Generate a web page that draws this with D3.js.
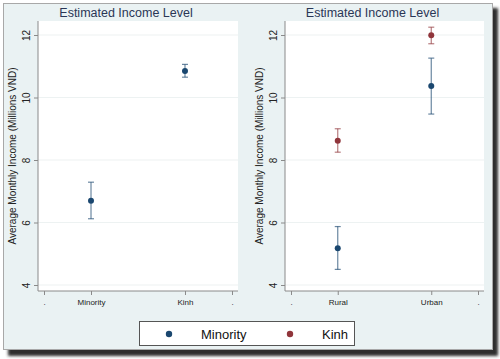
<!DOCTYPE html>
<html><head><meta charset="utf-8">
<script src="https://cdn.jsdelivr.net/npm/d3@7"></script>
<style>body{margin:0;background:#fff}svg{display:block}</style>
</head><body>
<script>
const title = "Estimated Income Level";
const yTitle = "Average Monthly Income (Millions VND)";
const yTicks = [4, 6, 8, 10, 12];
const series = ["Minority", "Kinh"];
const colors = {Minority: "#1a476f", Kinh: "#90353b"};
// left panel: by ethnicity (single series, drawn in first colour)
const leftTickLabels = [".", "Minority", "Kinh", "."];
const leftTickPos = [0, 1, 3, 4];
const leftData = [
  {x: 1, s: "Minority", v: 6.70, lo: 6.12, hi: 7.29},
  {x: 3, s: "Minority", v: 10.85, lo: 10.65, hi: 11.06}
];
// right panel: by area
const rightTickLabels = [".", "Rural", "Urban", "."];
const rightTickPos = [0, 1, 3, 4];
const rightData = [
  {x: 1, s: "Minority", v: 5.18, lo: 4.50, hi: 5.87},
  {x: 1, s: "Kinh", v: 8.62, lo: 8.25, hi: 9.00},
  {x: 3, s: "Minority", v: 10.37, lo: 9.47, hi: 11.26},
  {x: 3, s: "Kinh", v: 11.99, lo: 11.72, hi: 12.25}
];

const W = 500, H = 359;
const svg = d3.select("body").append("svg").attr("width", W).attr("height", H);
const defs = svg.append("defs");
const f = defs.append("filter").attr("id","sh").attr("x","-5%").attr("y","-5%").attr("width","115%").attr("height","115%");
f.append("feGaussianBlur").attr("stdDeviation", 1.8);

// shadow
svg.append("rect").attr("x", 8).attr("y", 8).attr("width", 490).attr("height", 348)
  .attr("fill", "#2e2e2e").attr("filter", "url(#sh)");
// frame
svg.append("rect").attr("x", 3.5).attr("y", 3.5).attr("width", 489).attr("height", 346)
  .attr("fill", "#eaf2f3").attr("stroke", "#a8a8a8").attr("stroke-width", 1);

const font = "'Liberation Sans', Arial, Helvetica, sans-serif";

function panel(left, right, tickPos, tickLabels, data) {
  const top = 21, bottom = 291;
  const x = d3.scaleLinear().domain([-0.128, 4.128]).range([left, right]);
  const y = d3.scaleLinear().domain([3.808, 12.448]).range([bottom, top]);
  const g = svg.append("g");
  g.append("rect").attr("x", left).attr("y", top).attr("width", right - left).attr("height", bottom - top).attr("fill", "#fff");
  // grid
  g.selectAll(".grid").data(yTicks).enter().append("line")
    .attr("x1", left).attr("x2", right).attr("y1", d => y(d)).attr("y2", d => y(d))
    .attr("stroke", "#edf2f2").attr("stroke-width", 1.2);
  // y axis
  const ya = g.append("g").attr("transform", `translate(${left},0)`)
    .call(d3.axisLeft(y).tickValues(yTicks).tickSize(4).tickPadding(4).tickFormat(d3.format("d")));
  ya.select(".domain").attr("stroke", "#8a8a8a").attr("d", `M0,${top}V${bottom}`);
  ya.selectAll(".tick line").attr("stroke", "#8a8a8a");
  ya.selectAll(".tick text").attr("transform", "rotate(-90)").attr("x", 0).attr("y", -8)
    .attr("dy", 0).attr("text-anchor", "middle").attr("font-family", font).attr("font-size", 10).attr("fill", "#222");
  // x axis
  const xa = g.append("g").attr("transform", `translate(0,${bottom})`)
    .call(d3.axisBottom(x).tickValues(tickPos).tickSize(4).tickPadding(4).tickFormat((d, i) => tickLabels[i]));
  xa.select(".domain").attr("stroke", "#8a8a8a").attr("d", `M${left},0H${right}`);
  xa.selectAll(".tick line").attr("stroke", "#8a8a8a");
  xa.selectAll(".tick text").attr("font-family", font).attr("font-size", 8).attr("fill", "#222");
  // y title
  g.append("text").attr("transform", `translate(${left - 22},${(top + bottom) / 2}) rotate(-90)`)
    .attr("text-anchor", "middle").attr("font-family", font).attr("font-size", 10).attr("fill", "#222").text(yTitle);
  // title
  g.append("text").attr("x", (left + right) / 2 - 12).attr("y", 17).attr("text-anchor", "middle")
    .attr("font-family", font).attr("font-size", 12.5).attr("fill", "#2a3656").text(title);
  // error bars
  const eb = g.selectAll(".eb").data(data).enter().append("g");
  eb.append("line").attr("x1", d => x(d.x)).attr("x2", d => x(d.x)).attr("y1", d => y(d.lo)).attr("y2", d => y(d.hi))
    .attr("stroke", d => colors[d.s]).attr("stroke-opacity", 0.65).attr("stroke-width", 1.2);
  ["lo", "hi"].forEach(k => {
    eb.append("line").attr("x1", d => x(d.x) - 3).attr("x2", d => x(d.x) + 3).attr("y1", d => y(d[k])).attr("y2", d => y(d[k]))
      .attr("stroke", d => colors[d.s]).attr("stroke-opacity", 0.65).attr("stroke-width", 1.2);
  });
  eb.append("circle").attr("cx", d => x(d.x)).attr("cy", d => y(d.v)).attr("r", 3).attr("fill", d => colors[d.s]);
}

panel(38, 238, leftTickPos, leftTickLabels, leftData);
panel(285, 484, rightTickPos, rightTickLabels, rightData);

// legend
const lg = svg.append("g");
lg.append("rect").attr("x", 139.5).attr("y", 321.5).attr("width", 215).attr("height", 24)
  .attr("fill", "#fff").attr("stroke", "#555").attr("stroke-width", 1);
const lx = [169, 290];
series.forEach((s, i) => {
  lg.append("circle").attr("cx", lx[i]).attr("cy", 334).attr("r", 3.2).attr("fill", colors[s]);
  lg.append("text").attr("x", lx[i] + 32).attr("y", 338.5).attr("font-family", font).attr("font-size", 13)
    .attr("fill", "#111").text(s);
});
</script>
</body></html>
